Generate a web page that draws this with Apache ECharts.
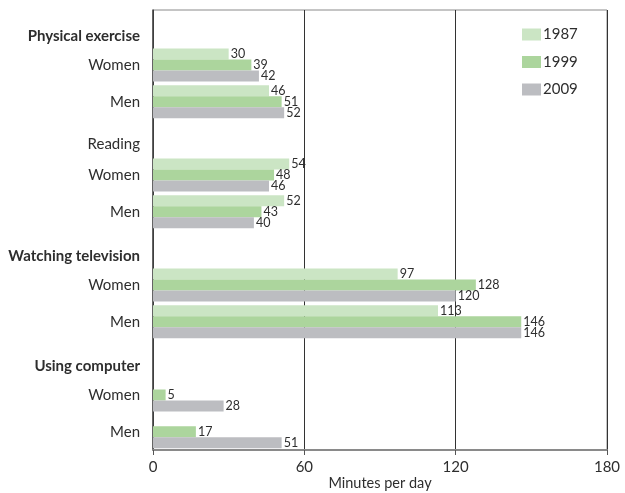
<!DOCTYPE html>
<html>
<head>
<meta charset="utf-8">
<script src="https://cdn.jsdelivr.net/npm/echarts@6/dist/echarts.min.js"></script>
<style>
  html, body { margin: 0; padding: 0; background: #fff; }
  #chart { width: 625px; height: 493px; }
</style>
</head>
<body>
<div id="chart"></div>
<script>
// activities, each one has a header row then Women / Men
const activities = ['Physical exercise', 'Reading', 'Watching television', 'Using computer'];
const sexes = ['Women', 'Men'];
const years = ['1987', '1999', '2009'];

// minutes per day, ordered Women, Men for each activity
const values1987 = [30, 46, 54, 52, 97, 113, null, null];
const values1999 = [39, 51, 48, 43, 128, 146, 5, 17];
const values2009 = [42, 52, 46, 40, 120, 146, 28, 51];

const xTicks = [0, 60, 120, 180];
const colors = ['#cbe5c4', '#acd59d', '#bcbdc1'];

// build rows for the category axis
const rowKeys = [];
const rowLabels = [];
const rowIsHeader = [];
activities.forEach((a) => {
	rowKeys.push(a);
	rowLabels.push(a);
	rowIsHeader.push(true);
	sexes.forEach((s) => {
		rowKeys.push(a + '|' + s);
		rowLabels.push(s);
		rowIsHeader.push(false);
	});
});

function toRows(vals) {
	const out = [];
	activities.forEach((a, i) => {
		out.push(null);
		out.push(vals[i * 2]);
		out.push(vals[i * 2 + 1]);
	});
	return out;
}

const seriesValues = [values1987, values1999, values2009];
const textColor = '#2e2e2e';
const font = 'Lato';

const chart = echarts.init(document.getElementById('chart'), null, { renderer: 'canvas' });
chart.setOption({
	animation: false,
	textStyle: { fontFamily: font },
	grid: {
		left: 153, right: 18, top: 10, bottom: 43,
		outerBoundsMode: 'none',
		containLabel: false,
		show: true, borderColor: '#8a8a8a', borderWidth: 1
	},
	legend: {
		orient: 'vertical',
		left: 522,
		top: 27,
		padding: 0,
		itemWidth: 19,
		itemHeight: 12,
		itemGap: 12.5,
		itemStyle: { borderWidth: 0 },
		icon: 'rect',
		textStyle: { fontSize: 15, color: textColor, fontFamily: font, padding: [0, 0, 0, -3] },
		data: years
	},
	xAxis: {
		type: 'value',
		min: 0,
		max: 180,
		interval: 60,
		name: 'Minutes per day',
		nameLocation: 'middle',
		nameGap: 26,
		nameMoveOverlap: false,
		nameTextStyle: { fontSize: 14.5, color: textColor },
		axisLine: { show: true, lineStyle: { color: '#8a8a8a', width: 2 } },
		axisTick: { show: true, length: 5, lineStyle: { color: '#555' } },
		axisLabel: {
			fontSize: 15,
			color: textColor,
			margin: 10,
			formatter: (v) => (xTicks.includes(v) ? String(v) : '')
		},
		splitLine: { show: true, lineStyle: { color: '#333', width: 1 } }
	},
	yAxis: {
		type: 'category',
		inverse: true,
		data: rowKeys,
		axisLine: { show: true, lineStyle: { color: '#444', width: 1.5 } },
		axisTick: { show: false },
		axisLabel: {
			margin: 13,
			fontSize: 15,
			color: textColor,
			formatter: (v, i) => {
				const label = rowLabels[i];
				if (!rowIsHeader[i]) return label;
				return label === 'Reading' ? '{r|' + label + '}' : '{h|' + label + '}';
			},
			rich: {
				h: { fontSize: 15, fontWeight: 'bold', color: textColor, fontFamily: font, padding: [16, 0, 0, 0] },
				r: { fontSize: 15, color: textColor, fontFamily: font, padding: [12, 0, 0, 0] }
			}
		}
	},
	series: years.map((y, k) => ({
		name: y,
		type: 'bar',
		data: toRows(seriesValues[k]),
		barWidth: 11,
		barGap: '0%',
		itemStyle: { color: colors[k] },
		label: {
			show: true,
			position: 'right',
			distance: 2,
			fontSize: 12.5,
			color: textColor,
			fontFamily: font
		}
	}))
});
</script>
</body>
</html>
